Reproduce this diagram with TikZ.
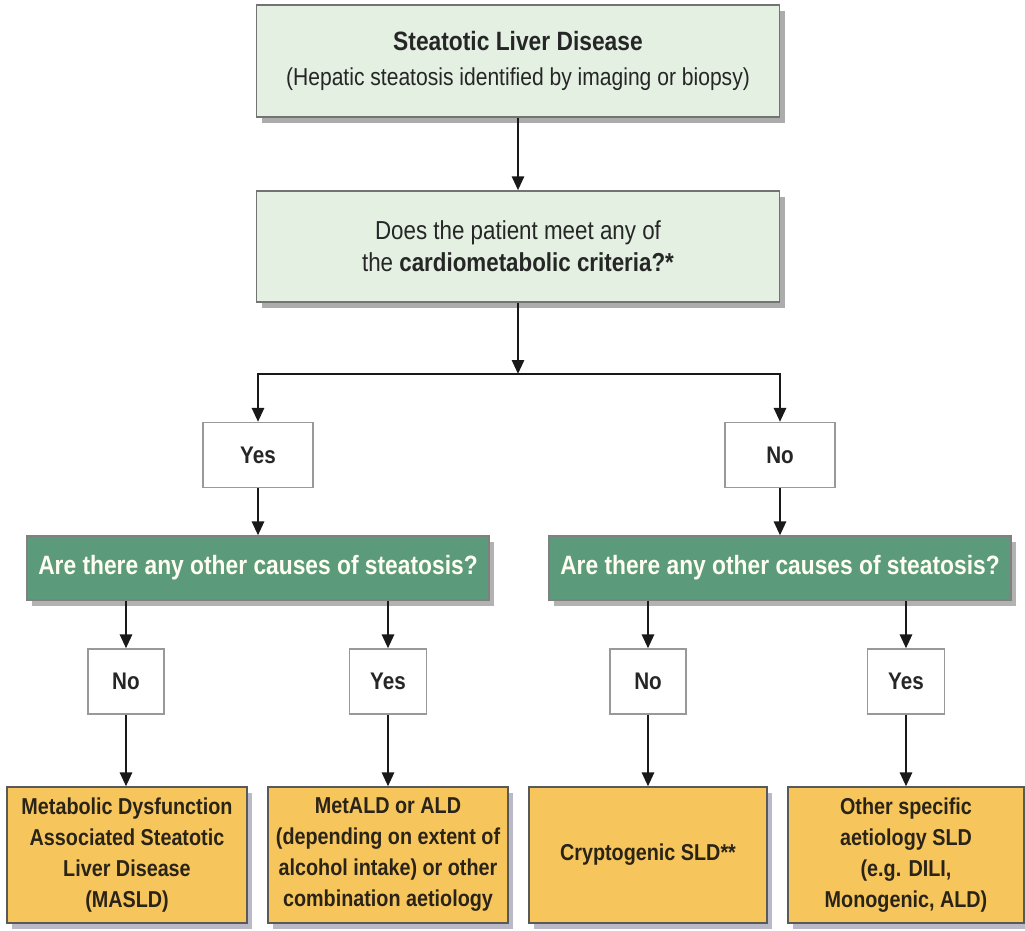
\documentclass[tikz,border=0pt]{standalone}
\usepackage{fontspec}
\setmainfont{Liberation Sans}[FakeStretch=0.86]
\usetikzlibrary{arrows.meta,shadows,positioning}

\definecolor{mint}{HTML}{E3F0E2}
\definecolor{sage}{HTML}{5C9A7C}
\definecolor{amber}{HTML}{F6C65C}
\definecolor{ink}{HTML}{2A2318}

\begin{document}
\begin{tikzpicture}%
        [x=1pt, y=-1pt,
        conn/.style={line width=2.8pt, color=black!90, -{Triangle[length=14pt,width=12pt]}},
        topbox/.style={draw=black!55, line width=1.4pt, fill=mint, text=black!85, align=center,
            inner sep=0pt, minimum width=523pt,
            drop shadow={shadow xshift=5pt, shadow yshift=-6pt, fill=black!65}},
        askbox/.style={draw=black!50, line width=1.2pt, fill=sage, text=white!95!yellow, align=center,
            inner sep=0pt, minimum width=462pt, minimum height=64pt,
            font=\bfseries\fontsize{26.5}{32}\selectfont,
            drop shadow={shadow xshift=5pt, shadow yshift=-6pt, fill=black!60}},
        answer/.style={draw=black!40, line width=1.2pt, fill=white, text=black!85,
            inner sep=0pt, minimum height=65pt,
            font=\bfseries\fontsize{24}{30}\selectfont},
        outcome/.style={draw=black!65, line width=1.2pt, fill=amber, text=ink, align=center,
            inner sep=0pt, minimum width=238pt, minimum height=136pt,
            font=\bfseries\fontsize{23}{31}\selectfont,
            drop shadow={shadow xshift=5pt, shadow yshift=-6pt, fill=blue!20!black!55}}]

    \useasboundingbox (0,0) rectangle (1025,930);

    %% Top boxes
    \node[topbox, minimum height=112pt, font=\fontsize{24.5}{35}\selectfont] (sld) at (518,61)
        {{\bfseries\fontsize{26.5}{35}\selectfont Steatotic Liver Disease}\\(Hepatic steatosis identified by imaging or biopsy)};
    \node[topbox, minimum height=111pt, font=\fontsize{26}{32}\selectfont] (cmc) at (518,246.5)
        {Does the patient meet any of\\the \textbf{cardiometabolic criteria?*}};
    \coordinate (split) at (518,374);

    %% First answer
    \node[answer, minimum width=110pt] (yes) at (258,455) {Yes};
    \node[answer, minimum width=110pt] (no)  at (780,455) {No};

    %% Other causes
    \node[askbox] (causeL) at (258,568) {Are there any other causes of steatosis?};
    \node[askbox] (causeR) at (780,568) {Are there any other causes of steatosis?};

    %% Second answers
    \node[answer, minimum width=76pt] (noL)  at (126,681.5) {No};
    \node[answer, minimum width=77pt] (yesL) at (388,681.5) {Yes};
    \node[answer, minimum width=76pt] (noR)  at (648,681.5) {No};
    \node[answer, minimum width=77pt] (yesR) at (906,681.5) {Yes};

    %% Outcomes
    \node[outcome, minimum width=240pt] (masld) at (127,855)
        {Metabolic Dysfunction\\Associated Steatotic\\Liver Disease\\(MASLD)};
    \node[outcome, minimum width=240pt] (metald) at (388,855)
        {MetALD or ALD\\(depending on extent of\\alcohol intake) or other\\combination aetiology};
    \node[outcome] (crypto) at (648,855) {Cryptogenic SLD**};
    \node[outcome, minimum width=236pt] (other) at (906,855)
        {Other specific\\aetiology SLD\\(e.g. DILI,\\Monogenic, ALD)};

    %% Connectors
    \draw[conn] (sld) -- (cmc);
    \draw[conn] (cmc) -- (split);
    \draw[conn] (split) -| (yes);
    \draw[conn] (split) -| (no);
    \draw[conn] (yes) -- (causeL);
    \draw[conn] (no) -- (causeR);
    \draw[conn] (causeL.south -| noL) -- (noL);
    \draw[conn] (causeL.south -| yesL) -- (yesL);
    \draw[conn] (causeR.south -| noR) -- (noR);
    \draw[conn] (causeR.south -| yesR) -- (yesR);
    \draw[conn] (noL) -- (noL |- masld.north);
    \draw[conn] (yesL) -- (yesL |- metald.north);
    \draw[conn] (noR) -- (noR |- crypto.north);
    \draw[conn] (yesR) -- (yesR |- other.north);
\end{tikzpicture}
\end{document}
